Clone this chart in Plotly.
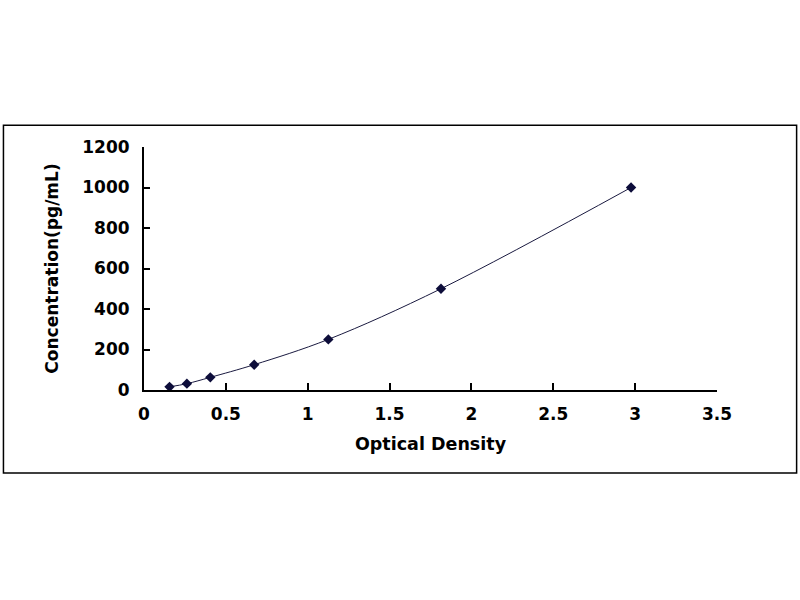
import plotly.graph_objects as go

# standard curve
od = [0.156, 0.262, 0.405, 0.673, 1.126, 1.814, 2.975]
conc = [15.6, 31.25, 62.5, 125, 250, 500, 1000]

x_ticks = [0, 0.5, 1, 1.5, 2, 2.5, 3, 3.5]
x_labels = ["0", "0.5", "1", "1.5", "2", "2.5", "3", "3.5"]
y_ticks = [0, 200, 400, 600, 800, 1000, 1200]

# plot area in pixels
left, right, top, bottom = 143.7, 717.3, 146.7, 390
W, H = 800, 600

fig = go.Figure()
fig.add_trace(go.Scatter(
    x=od, y=conc, mode="lines+markers",
    line=dict(color="#1a1a40", width=1, shape="spline"),
    marker=dict(symbol="diamond", size=8, color="#0d0d3a"),
    showlegend=False,
))

tick_font = dict(family="DejaVu Sans", size=17, color="black", weight="bold")

fig.update_xaxes(
    range=[0, 3.5], tickvals=x_ticks, ticktext=x_labels,
    showline=True, linecolor="black", linewidth=2,
    ticks="inside", ticklen=7, tickwidth=2, tickcolor="black",
    showgrid=False, zeroline=False,
    tickfont=tick_font, ticklabelstandoff=8,
    title=dict(text="<b>Optical Density</b>",
               font=dict(family="DejaVu Sans", size=17.5, color="black"), standoff=14),
)
fig.update_yaxes(
    range=[0, 1200], tickvals=y_ticks,
    showline=True, linecolor="black", linewidth=2,
    ticks="inside", ticklen=6, tickwidth=2, tickcolor="black",
    showgrid=False, zeroline=False,
    tickfont=tick_font, ticklabelstandoff=9,
    title=dict(text="<b>Concentration(pg/mL)</b>",
               font=dict(family="DejaVu Sans", size=17, color="black"), standoff=19),
)

pw, ph = right - left, bottom - top
# outer frame around the whole chart
fig.add_shape(
    type="rect", xref="paper", yref="paper",
    x0=(3 - left) / pw, x1=(797 - left) / pw,
    y0=(bottom - 473) / ph, y1=(bottom - 125) / ph,
    line=dict(color="black", width=1.5), layer="below",
)

fig.update_layout(
    width=W, height=H,
    margin=dict(l=left, r=W - right, t=top, b=H - bottom),
    plot_bgcolor="white", paper_bgcolor="white",
)

# drop the browser's default 8px body margin so the figure sits at the page corner
fig.write_html("out.html", config={"displayModeBar": False},
               post_script="document.body.style.margin='0';")
